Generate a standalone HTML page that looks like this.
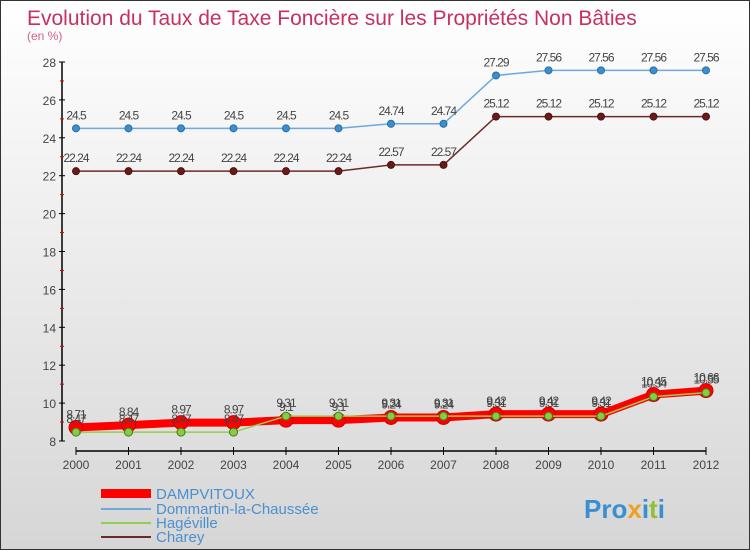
<!DOCTYPE html>
<html><head><meta charset="utf-8"><style>
body{margin:0}
#c{width:748px;height:548px;border:1px solid #333;background:linear-gradient(#fff,#d6d6d6);position:relative;font-family:"Liberation Sans",sans-serif;overflow:hidden}
</style></head><body>
<div id="c">
<svg id="s" width="748" height="548" xmlns="http://www.w3.org/2000/svg">
<text x="26" y="24" font-size="21" fill="#c8305e" font-weight="normal">Evolution du Taux de Taxe Foncière sur les Propriétés Non Bâties</text>
<text x="26" y="39" font-size="12" fill="#d0608a">(en %)</text>
<g id="g"></g>
<g>
<rect x="100" y="488" width="50" height="9" fill="#f00"/>
<text x="155" y="498" font-size="15" fill="#4a90d0">DAMPVITOUX</text>
<line x1="100" y1="508" x2="150" y2="508" stroke="#6fa8dc" stroke-width="2"/>
<text x="155" y="513" font-size="15" fill="#4a90d0">Dommartin-la-Chaussée</text>
<line x1="100" y1="522" x2="150" y2="522" stroke="#90d050" stroke-width="2"/>
<text x="155" y="527" font-size="15" fill="#4a90d0">Hagéville</text>
<line x1="100" y1="536" x2="150" y2="536" stroke="#6b2a2a" stroke-width="2"/>
<text x="155" y="541" font-size="15" fill="#4a90d0">Charey</text>
</g>
<text x="583" y="517" font-size="26" font-weight="bold" fill="#3a8fd0">Pro<tspan fill="#f0a020">x</tspan>i<tspan fill="#90c030">t</tspan>i</text>
</svg>
</div>
<script>
const years=[2000,2001,2002,2003,2004,2005,2006,2007,2008,2009,2010,2011,2012];
const dampvitoux=[8.71,8.84,8.97,8.97,9.1,9.1,9.24,9.24,9.42,9.42,9.42,10.45,10.66];
const dommartin=[24.5,24.5,24.5,24.5,24.5,24.5,24.74,24.74,27.29,27.56,27.56,27.56,27.56];
const hageville=[8.47,8.47,8.47,8.47,9.31,9.31,9.31,9.31,9.31,9.31,9.31,10.34,10.55];
const charey=[22.24,22.24,22.24,22.24,22.24,22.24,22.57,22.57,25.12,25.12,25.12,25.12,25.12];
const yTicks=[8,10,12,14,16,18,20,22,24,26,28];
const NS="http://www.w3.org/2000/svg";
const g=document.getElementById('g');
const X=i=>75+i*52.5, Y=v=>440-(v-8)*18.95;
function mk(t,a,p){const e=document.createElementNS(NS,t);for(const k in a)e.setAttribute(k,a[k]);(p||g).appendChild(e);return e;}
let ax=mk('line',{x1:61,y1:Y(28),x2:61,y2:Y(8),stroke:'#000','stroke-width':1.5});


let xa=mk('line',{x1:75,y1:450,x2:X(12),y2:450,stroke:'#000','stroke-width':1.5});


yTicks.forEach((v,k)=>{
 mk('line',{x1:58,y1:Y(v),x2:64,y2:Y(v),stroke:'#000'});
 if(k<yTicks.length-1)mk('line',{x1:59,y1:Y(v+1),x2:63,y2:Y(v+1),stroke:'#d00'});
 const t=mk('text',{x:55,y:Y(v)+5,'text-anchor':'end','font-size':12,fill:'#444'});t.textContent=v;
 
 
});
years.forEach((y,i)=>{
 mk('line',{x1:X(i),y1:446,x2:X(i),y2:454,stroke:'#000'});
 const t=mk('text',{x:X(i),y:468,'text-anchor':'middle','font-size':12,fill:'#444'});t.textContent=y;
 
 
});
function series(name,vals,col,w,dotR,dotF,dotS){
 const grp=mk('g',{});
 
 
 const pl=mk('polyline',{points:vals.map((v,i)=>X(i)+','+Y(v)).join(' '),fill:'none',stroke:col,'stroke-width':w,'stroke-linejoin':'round'},grp);
 
 
 vals.forEach((v,i)=>{
  const c=mk('circle',{cx:X(i),cy:Y(v),r:dotR,fill:dotF,stroke:dotS,'stroke-width':1},grp);
  
  
  const t=mk('text',{x:X(i),y:Y(v)-9,'text-anchor':'middle','font-size':12,fill:'#444','letter-spacing':'-1'},grp);t.textContent=v;
  
  
 });
}
series('dommartin',dommartin,'#6fa8dc',1.5,3.5,'#3a8fd0','#2a6fa0');
series('charey',charey,'#6b2a2a',1.5,3.5,'#6b1a1a','#4a1010');
series('dampvitoux',dampvitoux,'#f00',8,7,'#f00','#c00');
series('hageville',hageville,'#90d050',1.5,4,'#80d040','#507020');
</script>
</body></html>
